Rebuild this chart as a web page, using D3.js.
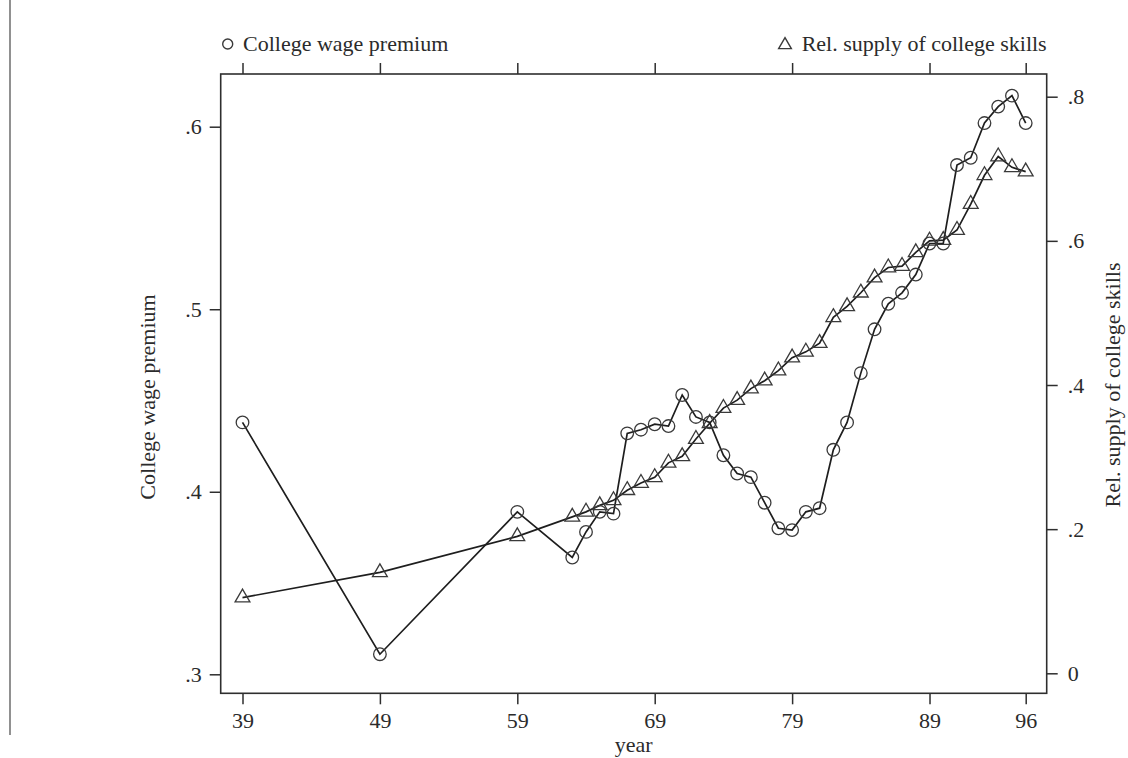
<!DOCTYPE html>
<html>
<head>
<meta charset="utf-8">
<script src="https://cdn.jsdelivr.net/npm/d3@7/dist/d3.min.js"></script>
<style>
  html, body { margin: 0; padding: 0; background: #fff; }
  svg { display: block; }
  text { font-family: "Liberation Serif", "Times New Roman", serif; fill: #2b2b2b; }
</style>
</head>
<body>
<svg id="chart" width="1128" height="758"></svg>
<script>
// Years with observations
const years = [39, 49, 59, 63, 64, 65, 66, 67, 68, 69, 70, 71, 72, 73, 74, 75, 76, 77, 78, 79,
               80, 81, 82, 83, 84, 85, 86, 87, 88, 89, 90, 91, 92, 93, 94, 95, 96];

// College wage premium (left axis)
const wagePremium = [0.438, 0.311, 0.389, 0.364, 0.378, 0.389, 0.388, 0.432, 0.434, 0.437,
                     0.436, 0.453, 0.441, 0.438, 0.420, 0.410, 0.408, 0.394, 0.380, 0.379,
                     0.389, 0.391, 0.423, 0.438, 0.465, 0.489, 0.503, 0.509, 0.519, 0.536,
                     0.536, 0.579, 0.583, 0.602, 0.611, 0.617, 0.602];

// Relative supply of college skills (right axis)
const relSupply = [0.105, 0.140, 0.190, 0.217, 0.224, 0.233, 0.240, 0.254, 0.264, 0.272,
                   0.292, 0.301, 0.325, 0.347, 0.368, 0.379, 0.395, 0.406, 0.420, 0.438,
                   0.446, 0.458, 0.494, 0.509, 0.528, 0.549, 0.563, 0.565, 0.584, 0.600,
                   0.601, 0.615, 0.651, 0.691, 0.717, 0.702, 0.696];

// Tick labels
const yearTicks = [39, 49, 59, 69, 79, 89, 96];
const wageTicks = [0.3, 0.4, 0.5, 0.6];
const supplyTicks = [0, 0.2, 0.4, 0.6, 0.8];

const svg = d3.select("#chart");

// Plot region
const frame = { left: 220.7, right: 1046.7, top: 74, bottom: 693.3 };

const x = d3.scaleLinear().domain([39, 96]).range([242.5, 1025.7]);
const yL = d3.scaleLinear().domain([0.3, 0.6]).range([674.3, 126.7]);
const yR = d3.scaleLinear().domain([0, 0.8]).range([673.3, 96.7]);

const fmtDec = v => v === 0 ? "0" : d3.format(".1f")(v).replace(/^0/, "");
const ink = "#2e2e2e";
const fontSize = 22;

// Page rule at the far left
svg.append("line")
  .attr("x1", 10).attr("x2", 10).attr("y1", 0).attr("y2", 735)
  .attr("stroke", "#555").attr("stroke-width", 1.3);

// Axes
function styleAxis(g) {
  g.select(".domain").remove();
  g.selectAll(".tick line").attr("stroke", ink).attr("stroke-width", 1.5);
  g.selectAll(".tick text")
    .style("font-family", '"Liberation Serif", serif')
    .style("font-size", fontSize + "px")
    .attr("fill", "#2b2b2b");
}

svg.append("g")
  .attr("transform", `translate(0,${frame.bottom})`)
  .call(d3.axisBottom(x).tickValues(yearTicks).tickSize(11).tickPadding(8).tickFormat(d3.format("d")))
  .call(styleAxis);

svg.append("g")
  .attr("transform", `translate(0,${frame.top})`)
  .call(d3.axisTop(x).tickValues(yearTicks).tickSize(11).tickFormat(""))
  .call(styleAxis);

svg.append("g")
  .attr("transform", `translate(${frame.left},0)`)
  .call(d3.axisLeft(yL).tickValues(wageTicks).tickSize(11).tickPadding(8).tickFormat(fmtDec))
  .call(styleAxis);

svg.append("g")
  .attr("transform", `translate(${frame.right},0)`)
  .call(d3.axisRight(yR).tickValues(supplyTicks).tickSize(11).tickPadding(10).tickFormat(fmtDec))
  .call(styleAxis);

// Frame
svg.append("rect")
  .attr("x", frame.left).attr("y", frame.top)
  .attr("width", frame.right - frame.left).attr("height", frame.bottom - frame.top)
  .attr("fill", "none").attr("stroke", ink).attr("stroke-width", 1.6);

// Axis titles
svg.append("text")
  .attr("transform", `translate(155,397) rotate(-90)`)
  .attr("text-anchor", "middle")
  .style("font-size", fontSize + "px")
  .text("College wage premium");

svg.append("text")
  .attr("transform", `translate(1120,385) rotate(-90)`)
  .attr("text-anchor", "middle")
  .style("font-size", fontSize + "px")
  .text("Rel. supply of college skills");

svg.append("text")
  .attr("x", (frame.left + frame.right) / 2).attr("y", 752)
  .attr("text-anchor", "middle")
  .style("font-size", fontSize + "px")
  .text("year");

// Series
const wageData = years.map((yr, i) => ({ yr, v: wagePremium[i] }));
const supplyData = years.map((yr, i) => ({ yr, v: relSupply[i] }));

const lineStroke = "#1e1e1e";
const markStroke = "#3a3a3a";

svg.append("path")
  .datum(wageData)
  .attr("fill", "none").attr("stroke", lineStroke).attr("stroke-width", 1.7)
  .attr("d", d3.line().x(d => x(d.yr)).y(d => yL(d.v)));

svg.append("path")
  .datum(supplyData)
  .attr("fill", "none").attr("stroke", lineStroke).attr("stroke-width", 1.7)
  .attr("d", d3.line().x(d => x(d.yr)).y(d => yR(d.v)));

svg.append("g").selectAll("circle")
  .data(wageData).join("circle")
  .attr("cx", d => x(d.yr)).attr("cy", d => yL(d.v)).attr("r", 6.3)
  .attr("fill", "none").attr("stroke", markStroke).attr("stroke-width", 1.3);

const tri = d3.symbol().type(d3.symbolTriangle).size(95);
svg.append("g").selectAll("path")
  .data(supplyData).join("path")
  .attr("transform", d => `translate(${x(d.yr)},${yR(d.v)})`)
  .attr("d", tri)
  .attr("fill", "none").attr("stroke", markStroke).attr("stroke-width", 1.3);

// Legend
svg.append("circle")
  .attr("cx", 227.7).attr("cy", 44).attr("r", 5)
  .attr("fill", "none").attr("stroke", markStroke).attr("stroke-width", 1.4);
svg.append("text")
  .attr("x", 243).attr("y", 51)
  .style("font-size", fontSize + "px")
  .text("College wage premium");

svg.append("path")
  .attr("transform", "translate(785,45)")
  .attr("d", d3.symbol().type(d3.symbolTriangle).size(70))
  .attr("fill", "none").attr("stroke", markStroke).attr("stroke-width", 1.4);
svg.append("text")
  .attr("x", frame.right).attr("y", 51)
  .attr("text-anchor", "end")
  .style("font-size", fontSize + "px")
  .text("Rel. supply of college skills");
</script>
</body>
</html>
